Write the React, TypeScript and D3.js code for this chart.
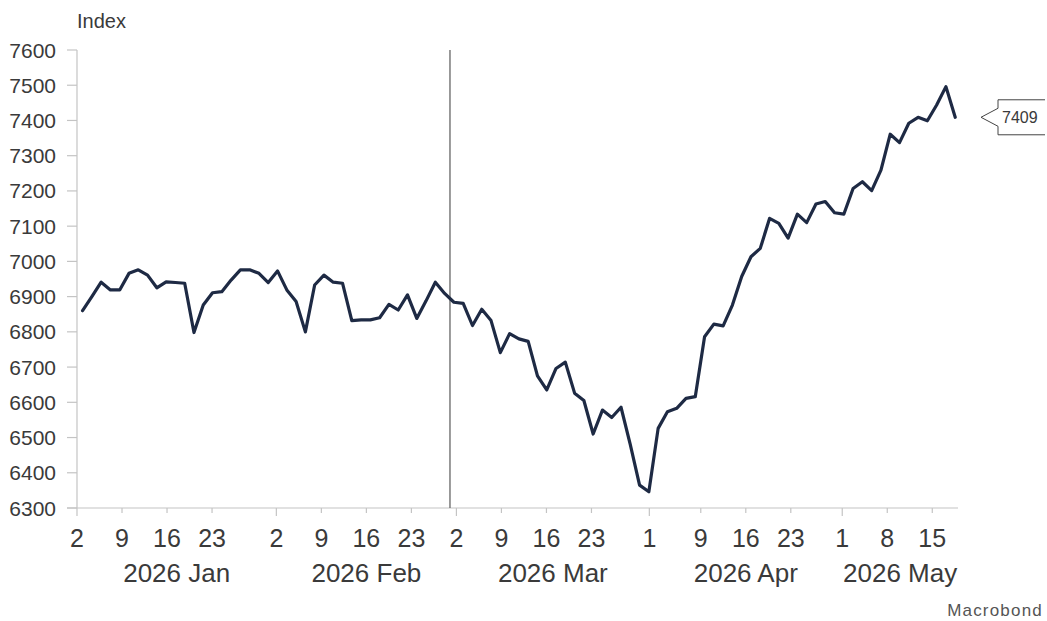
import React from "react";
import * as d3 from "d3";

// Index level, evenly spaced observations from 2 Jan 2026 to 19 May 2026
const values: number[] = [
  6860, 6900, 6941, 6919, 6919, 6966, 6976, 6961, 6925, 6942,
  6940, 6938, 6798, 6876, 6911, 6914, 6947, 6976, 6976, 6966,
  6940, 6973, 6919, 6886, 6800, 6933, 6961, 6941, 6938, 6832,
  6834, 6834, 6840, 6878, 6862, 6905, 6838, 6888, 6941, 6909,
  6884, 6881, 6818, 6864, 6832, 6741, 6795, 6780, 6773, 6675,
  6635, 6696, 6714, 6626, 6605, 6510, 6578, 6557, 6586, 6480,
  6365, 6346, 6526, 6573, 6583, 6611, 6616, 6786, 6822, 6817,
  6876, 6957, 7013, 7037, 7122, 7108, 7066, 7134, 7110, 7163,
  7170, 7138, 7134, 7207, 7226, 7201, 7259, 7361, 7337, 7392,
  7409, 7399, 7444, 7496, 7409,
];

const yTicks: number[] = [6300, 6400, 6500, 6600, 6700, 6800, 6900, 7000, 7100, 7200, 7300, 7400, 7500, 7600];

// Weekly tick dates [year, monthIndex, day]
const xTickDates: [number, number, number][] = [
  [2026, 0, 2], [2026, 0, 9], [2026, 0, 16], [2026, 0, 23],
  [2026, 1, 2], [2026, 1, 9], [2026, 1, 16], [2026, 1, 23],
  [2026, 2, 2], [2026, 2, 9], [2026, 2, 16], [2026, 2, 23],
  [2026, 3, 1], [2026, 3, 9], [2026, 3, 16], [2026, 3, 23],
  [2026, 4, 1], [2026, 4, 8], [2026, 4, 15],
];
const monthStarts: [number, number, number][] = [
  [2026, 0, 2], [2026, 1, 2], [2026, 2, 2], [2026, 3, 1], [2026, 4, 1],
];
const monthLabels: string[] = ["2026 Jan", "2026 Feb", "2026 Mar", "2026 Apr", "2026 May"];
const markerDate: [number, number, number] = [2026, 2, 1];
const domainStart: [number, number, number] = [2026, 0, 2];
const domainEnd: [number, number, number] = [2026, 4, 19];

const mk = (d: [number, number, number]) => new Date(d[0], d[1], d[2]);

export default function App() {
  const W = 1047, H = 621;
  const left = 77, right = 958, top = 50, bottom = 508;
  const x = d3.scaleTime().domain([mk(domainStart), mk(domainEnd)]).range([left, right]);
  const xi = d3.scaleLinear().domain([-0.6, values.length - 1 + 0.3]).range([left, right]);
  const y = d3.scaleLinear().domain([6300, 7600]).range([bottom, top]);
  const line = d3.line<number>().x((_, i) => xi(i)).y((v) => y(v));
  const font = "Arial, 'Liberation Sans', sans-serif";
  const textCol = "#3a3a3a";
  const axisCol = "#c4c4c4";
  const last = values[values.length - 1];
  const ly = y(last);
  const tipX = 981, boxL = 998, boxR = 1045, boxT = ly - 17.5, boxB = ly + 17.5;
  const monthKeys = monthStarts.map((d) => +mk(d));
  const monthPos = monthStarts.map((d) => x(mk(d)));
  const monthCenters = monthPos.map((p, i) => (p + (i + 1 < monthPos.length ? monthPos[i + 1] : right)) / 2);

  return (
    <svg width={W} height={H} style={{ position: "absolute", left: 0, top: 0, background: "#fff" }} fontFamily={font}>
      <text x={77} y={28} fontSize={20} fill={textCol}>Index</text>
      {/* y axis */}
      <line x1={left} x2={left} y1={top} y2={bottom} stroke={axisCol} strokeWidth={1.2} />
      {yTicks.map((t) => (
        <g key={t}>
          <line x1={67} x2={left} y1={y(t)} y2={y(t)} stroke={axisCol} strokeWidth={1.2} />
          <text x={56} y={y(t)} dy="0.36em" textAnchor="end" fontSize={21} fill={textCol}>{t}</text>
        </g>
      ))}
      {/* x axis */}
      <line x1={67} x2={right} y1={bottom} y2={bottom} stroke={axisCol} strokeWidth={1.2} />
      {xTickDates.map((d, i) => {
        const dt = mk(d);
        const px = x(dt);
        const major = monthKeys.includes(+dt);
        return (
          <g key={i}>
            <line x1={px} x2={px} y1={bottom} y2={bottom + (major ? 8 : 5)} stroke={axisCol} strokeWidth={1.2} />
            <text x={px} y={547} textAnchor="middle" fontSize={25} fill={textCol}>{d3.timeFormat("%-d")(dt)}</text>
          </g>
        );
      })}
      {monthLabels.map((m, i) => (
        <text key={m} x={monthCenters[i]} y={582} textAnchor="middle" fontSize={26} fill={textCol}>{m}</text>
      ))}
      {/* marker line */}
      <line x1={x(mk(markerDate))} x2={x(mk(markerDate))} y1={top} y2={bottom} stroke="#666" strokeWidth={1.3} />
      {/* series */}
      <path d={line(values) || ""} fill="none" stroke="#1e2a44" strokeWidth={3.2} strokeLinejoin="round" strokeLinecap="round" />
      {/* last value label */}
      <path
        d={`M${boxR},${boxT} L${boxL},${boxT} L${boxL},${ly - 9} L${tipX},${ly} L${boxL},${ly + 9} L${boxL},${boxB} L${boxR},${boxB}`}
        fill="#fff" stroke="#444" strokeWidth={1}
      />
      <text x={1002} y={ly} dy="0.36em" fontSize={16} fill={textCol}>{last}</text>
      <text x={1043} y={616} textAnchor="end" fontSize={17} letterSpacing={1.2} fill="#555">Macrobond</text>
    </svg>
  );
}
